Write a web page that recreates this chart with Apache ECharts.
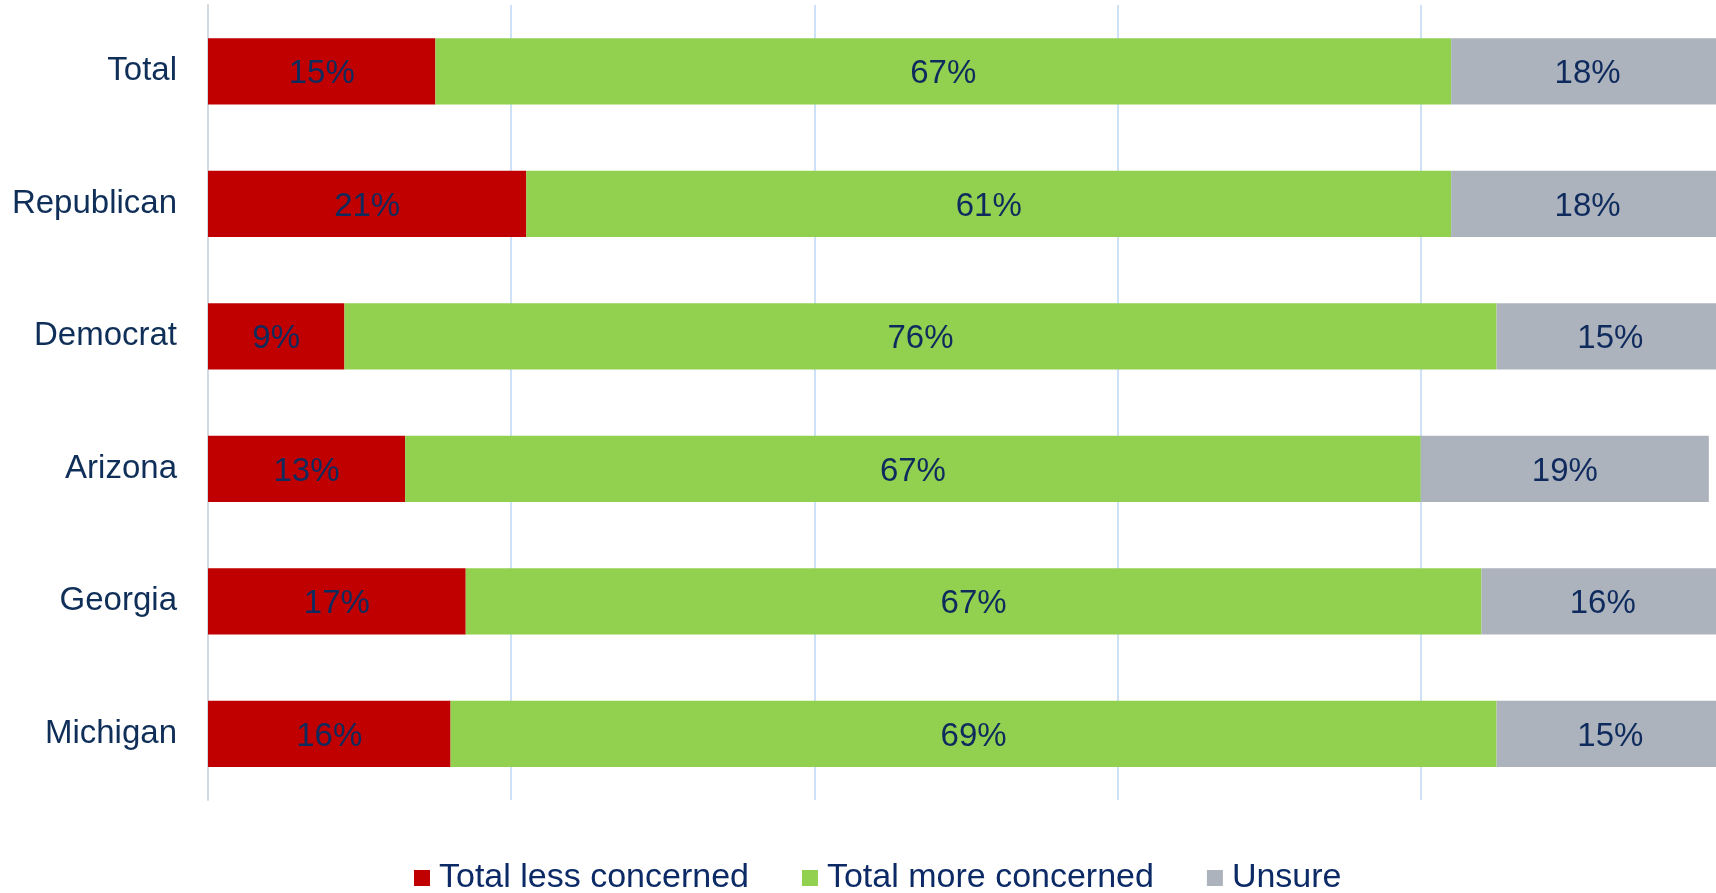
<!DOCTYPE html>
<html>
<head>
<meta charset="utf-8">
<title>Concern by group</title>
<script src="https://cdn.jsdelivr.net/npm/echarts@6/dist/echarts.min.js"></script>
<style>
  html, body { margin: 0; padding: 0; background: #ffffff; overflow: hidden; }
  #chart { width: 1716px; height: 893px; }
</style>
</head>
<body>
<div id="chart"></div>
<script>
// Groups shown top to bottom
const categories = ['Total', 'Republican', 'Democrat', 'Arizona', 'Georgia', 'Michigan'];

// Share of respondents per answer (%)
const lessConcerned = [15, 21, 9, 13, 17, 16];
const moreConcerned = [67, 61, 76, 67, 67, 69];
const unsure = [18, 18, 15, 19, 16, 15];

const seriesNames = ['Total less concerned', 'Total more concerned', 'Unsure'];
const seriesColors = ['#c00000', '#92d050', '#adb3bd'];

const FONT = '"Liberation Sans", Arial, Helvetica, sans-serif';
const TEXT_NAVY = '#0f2e58';

const chart = echarts.init(document.getElementById('chart'), null, { renderer: 'canvas' });

function barSeries(name, data, color) {
  return {
    name: name,
    type: 'bar',
    stack: 'total',
    data: data,
    barCategoryGap: '50%',
    itemStyle: { color: color },
    label: {
      show: true,
      position: 'inside',
      offset: [0, 3],
      formatter: '{c}%',
      fontFamily: FONT,
      fontSize: 33,
      color: '#0f2b5e'
    },
    emphasis: { disabled: true }
  };
}

chart.setOption({
  animation: false,
  textStyle: { fontFamily: FONT },
  // the 100% end of the scale sits just past the right edge of the canvas
  grid: {
    left: 208,
    width: 1516,
    top: 5,
    bottom: 93,
    containLabel: false,
    outerBoundsMode: 'none'
  },
  legend: {
    data: seriesNames,
    left: 414,
    top: 861,
    padding: 0,
    itemWidth: 16,
    itemHeight: 16,
    itemGap: 53,
    icon: 'rect',
    textStyle: { fontFamily: FONT, fontSize: 34, color: '#0c2a66', padding: [0, 0, 0, 4] }
  },
  xAxis: {
    type: 'value',
    min: 0,
    max: 100,
    interval: 20,
    axisLine: { show: false },
    axisTick: { show: false },
    axisLabel: { show: false },
    splitLine: { show: true, lineStyle: { color: '#cde2f6', width: 2 } }
  },
  yAxis: {
    type: 'category',
    data: categories,
    inverse: true,
    axisLine: { show: true, lineStyle: { color: '#d3d9e1', width: 2 } },
    axisTick: { show: false },
    axisLabel: { fontFamily: FONT, fontSize: 33, color: TEXT_NAVY, margin: 31, padding: [6, 0, 0, 0] }
  },
  series: [
    barSeries(seriesNames[0], lessConcerned, seriesColors[0]),
    barSeries(seriesNames[1], moreConcerned, seriesColors[1]),
    barSeries(seriesNames[2], unsure, seriesColors[2])
  ]
});
</script>
</body>
</html>
